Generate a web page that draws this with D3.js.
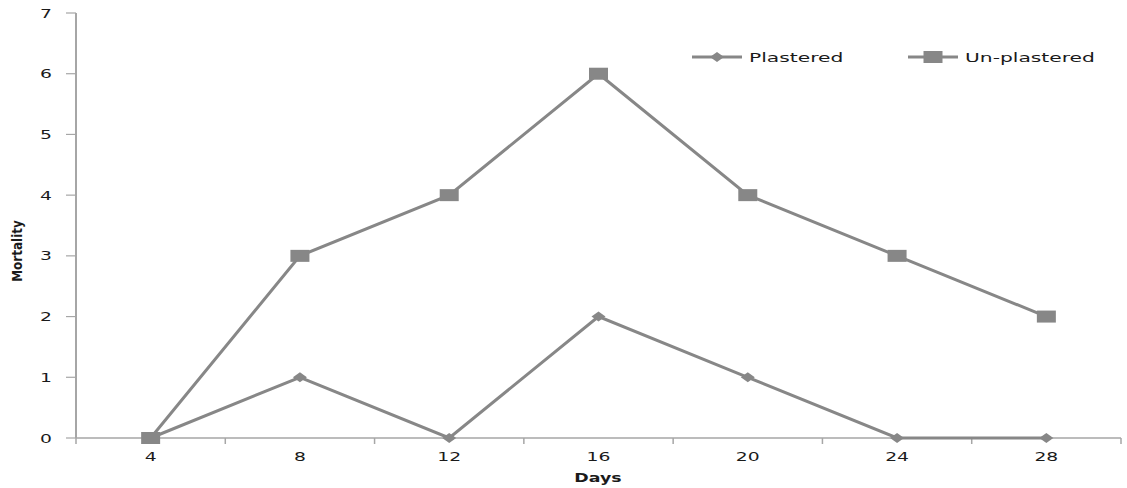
<!DOCTYPE html>
<html><head><meta charset="utf-8">
<script src="https://cdn.jsdelivr.net/npm/d3@7"></script>
<style>body{margin:0;background:#fff}svg text{font-family:"DejaVu Sans",sans-serif;fill:#1a1a1a}</style>
</head><body>
<svg id="c" width="1127" height="488"></svg>
<script>
const days = ["4","8","12","16","20","24","28"];
const plastered = [0,1,0,2,1,0,0];
const unplastered = [0,3,4,6,4,3,2];
const yTicks = [0,1,2,3,4,5,6,7];
const seriesNames = ["Plastered","Un-plastered"];

const svg = d3.select("#c");
const m = {l:76, r:1121, t:13, b:438};
const SX = 1.5;
const SXL = 1.62;
const color = "#878787";
const x = d3.scaleBand().domain(days).range([m.l, m.r]);
const y = d3.scaleLinear().domain([0,7]).range([m.b, m.t]);
const xc = d => x(d) + x.bandwidth()/2;

// y axis
const ya = svg.append("g");
ya.append("line").attr("x1",m.l).attr("x2",m.l).attr("y1",m.t).attr("y2",m.b).attr("stroke","#a6a6a6").attr("stroke-width",2);
yTicks.forEach(t=>{
  ya.append("line").attr("x1",m.l-10).attr("x2",m.l).attr("y1",y(t)).attr("y2",y(t)).attr("stroke","#a6a6a6").attr("stroke-width",1.2);
  ya.append("text").attr("transform",`translate(52,${y(t)+4.5}) scale(${SX},1)`).attr("text-anchor","end").attr("font-size",12.5).text(t);
});
// x axis
const xa = svg.append("g");
xa.append("line").attr("x1",m.l).attr("x2",m.r).attr("y1",m.b).attr("y2",m.b).attr("stroke","#a6a6a6").attr("stroke-width",1.5);
d3.range(days.length+1).forEach(i=>{
  const px = m.l + i*x.step();
  xa.append("line").attr("x1",px).attr("x2",px).attr("y1",m.b).attr("y2",m.b+6).attr("stroke","#a6a6a6").attr("stroke-width",1.5);
});
days.forEach(d=>{
  xa.append("text").attr("transform",`translate(${xc(d)},${m.b+23}) scale(${SX},1)`).attr("text-anchor","middle").attr("font-size",12.5).text(d);
});
svg.append("text").attr("transform",`translate(598,482) scale(1.45,1)`).attr("text-anchor","middle").attr("font-size",12).attr("font-weight","bold").text("Days");
svg.append("text").attr("transform",`translate(22,251) scale(1.15,1) rotate(-90)`).attr("text-anchor","middle").attr("font-size",12).attr("font-weight","bold").attr("font-family","Liberation Sans Narrow, Liberation Sans, sans-serif").text("Mortality");

const line = d3.line().x((d,i)=>xc(days[i])).y(d=>y(d));
function diamond(g, cx, cy){
  g.append("path").attr("d",`M${cx-7},${cy} L${cx},${cy-5} L${cx+7},${cy} L${cx},${cy+5} Z`).attr("fill",color);
}
function square(g, cx, cy){
  g.append("rect").attr("x",cx-9.5).attr("y",cy-6).attr("width",19).attr("height",12).attr("fill",color);
}
const g1 = svg.append("g");
g1.append("path").attr("d",line(plastered)).attr("fill","none").attr("stroke",color).attr("stroke-width",3);
plastered.forEach((v,i)=>diamond(g1, xc(days[i]), y(v)));
const g2 = svg.append("g");
g2.append("path").attr("d",line(unplastered)).attr("fill","none").attr("stroke",color).attr("stroke-width",3);
unplastered.forEach((v,i)=>square(g2, xc(days[i]), y(v)));

// legend
const lg = svg.append("g");
const ly = 57;
lg.append("line").attr("x1",692).attr("x2",742).attr("y1",ly).attr("y2",ly).attr("stroke",color).attr("stroke-width",3);
diamond(lg, 717, ly);
lg.append("text").attr("transform",`translate(749,${ly+4.5}) scale(${SXL},1)`).attr("font-size",12.5).text(seriesNames[0]);
lg.append("line").attr("x1",908).attr("x2",958).attr("y1",ly).attr("y2",ly).attr("stroke",color).attr("stroke-width",3);
square(lg, 933, ly);
lg.append("text").attr("transform",`translate(965,${ly+4.5}) scale(${SXL},1)`).attr("font-size",12.5).text(seriesNames[1]);
</script>
</body></html>
